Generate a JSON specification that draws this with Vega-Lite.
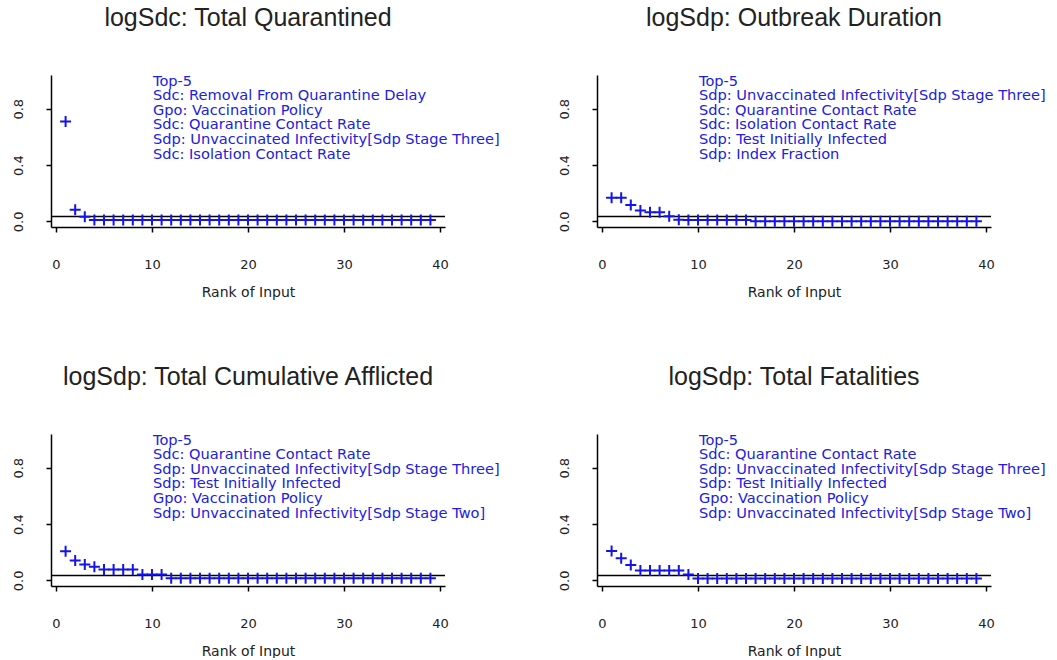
{
  "$schema": "https://vega.github.io/schema/vega-lite/v6.json",
  "background": "white",
  "padding": {"left": 12, "top": 5, "right": 0, "bottom": 0},
  "config": {
    "view": {"stroke": null},
    "font": "DejaVu Sans",
    "title": {"font": "Liberation Sans", "fontSize": 25, "fontWeight": "normal", "color": "#222", "anchor": "middle", "baseline": "alphabetic", "offset": 43},
    "axis": {"grid": false, "domainColor": "black", "domainWidth": 1.5, "tickColor": "black", "tickWidth": 1.5, "tickSize": 5, "labelFont": "DejaVu Sans", "labelFontSize": 13, "labelColor": "#222", "titleFont": "DejaVu Sans", "titleFontSize": 14, "titleFontWeight": "normal", "titleColor": "#222"},
    "axisX": {"labelPadding": 26, "titlePadding": 14, "labelFlush": false},
    "axisY": {"labelAngle": 270, "labelAlign": "center", "labelBaseline": "bottom", "labelPadding": 21, "labelFlush": false, "title": null}
  },
  "datasets": {
    "quarantined": [
      {"rank": 1, "value": 0.71}, {"rank": 2, "value": 0.083}, {"rank": 3, "value": 0.032}, {"rank": 4, "value": 0.01},
      {"rank": 5, "value": 0.01}, {"rank": 6, "value": 0.01}, {"rank": 7, "value": 0.01}, {"rank": 8, "value": 0.01},
      {"rank": 9, "value": 0.01}, {"rank": 10, "value": 0.01}, {"rank": 11, "value": 0.01}, {"rank": 12, "value": 0.01},
      {"rank": 13, "value": 0.01}, {"rank": 14, "value": 0.01}, {"rank": 15, "value": 0.01}, {"rank": 16, "value": 0.01},
      {"rank": 17, "value": 0.01}, {"rank": 18, "value": 0.01}, {"rank": 19, "value": 0.01}, {"rank": 20, "value": 0.01},
      {"rank": 21, "value": 0.01}, {"rank": 22, "value": 0.01}, {"rank": 23, "value": 0.01}, {"rank": 24, "value": 0.01},
      {"rank": 25, "value": 0.01}, {"rank": 26, "value": 0.01}, {"rank": 27, "value": 0.01}, {"rank": 28, "value": 0.01},
      {"rank": 29, "value": 0.01}, {"rank": 30, "value": 0.01}, {"rank": 31, "value": 0.01}, {"rank": 32, "value": 0.01},
      {"rank": 33, "value": 0.01}, {"rank": 34, "value": 0.01}, {"rank": 35, "value": 0.01}, {"rank": 36, "value": 0.01},
      {"rank": 37, "value": 0.01}, {"rank": 38, "value": 0.01}, {"rank": 39, "value": 0.01}
    ],
    "duration": [
      {"rank": 1, "value": 0.167}, {"rank": 2, "value": 0.167}, {"rank": 3, "value": 0.117}, {"rank": 4, "value": 0.077},
      {"rank": 5, "value": 0.065}, {"rank": 6, "value": 0.065}, {"rank": 7, "value": 0.036}, {"rank": 8, "value": 0.012},
      {"rank": 9, "value": 0.01}, {"rank": 10, "value": 0.01}, {"rank": 11, "value": 0.01}, {"rank": 12, "value": 0.01},
      {"rank": 13, "value": 0.01}, {"rank": 14, "value": 0.01}, {"rank": 15, "value": 0.01}, {"rank": 16, "value": 0.0},
      {"rank": 17, "value": 0.0}, {"rank": 18, "value": 0.0}, {"rank": 19, "value": 0.0}, {"rank": 20, "value": 0.0},
      {"rank": 21, "value": 0.0}, {"rank": 22, "value": 0.0}, {"rank": 23, "value": 0.0}, {"rank": 24, "value": 0.0},
      {"rank": 25, "value": 0.0}, {"rank": 26, "value": 0.0}, {"rank": 27, "value": 0.0}, {"rank": 28, "value": 0.0},
      {"rank": 29, "value": 0.0}, {"rank": 30, "value": 0.0}, {"rank": 31, "value": 0.0}, {"rank": 32, "value": 0.0},
      {"rank": 33, "value": 0.0}, {"rank": 34, "value": 0.0}, {"rank": 35, "value": 0.0}, {"rank": 36, "value": 0.0},
      {"rank": 37, "value": 0.0}, {"rank": 38, "value": 0.0}, {"rank": 39, "value": 0.0}
    ],
    "afflicted": [
      {"rank": 1, "value": 0.207}, {"rank": 2, "value": 0.142}, {"rank": 3, "value": 0.112}, {"rank": 4, "value": 0.097},
      {"rank": 5, "value": 0.078}, {"rank": 6, "value": 0.078}, {"rank": 7, "value": 0.078}, {"rank": 8, "value": 0.078},
      {"rank": 9, "value": 0.042}, {"rank": 10, "value": 0.042}, {"rank": 11, "value": 0.042}, {"rank": 12, "value": 0.015},
      {"rank": 13, "value": 0.015}, {"rank": 14, "value": 0.015}, {"rank": 15, "value": 0.015}, {"rank": 16, "value": 0.015},
      {"rank": 17, "value": 0.015}, {"rank": 18, "value": 0.015}, {"rank": 19, "value": 0.015}, {"rank": 20, "value": 0.015},
      {"rank": 21, "value": 0.015}, {"rank": 22, "value": 0.015}, {"rank": 23, "value": 0.015}, {"rank": 24, "value": 0.015},
      {"rank": 25, "value": 0.015}, {"rank": 26, "value": 0.015}, {"rank": 27, "value": 0.015}, {"rank": 28, "value": 0.015},
      {"rank": 29, "value": 0.015}, {"rank": 30, "value": 0.015}, {"rank": 31, "value": 0.015}, {"rank": 32, "value": 0.015},
      {"rank": 33, "value": 0.015}, {"rank": 34, "value": 0.015}, {"rank": 35, "value": 0.015}, {"rank": 36, "value": 0.015},
      {"rank": 37, "value": 0.015}, {"rank": 38, "value": 0.015}, {"rank": 39, "value": 0.015}
    ],
    "fatalities": [
      {"rank": 1, "value": 0.208}, {"rank": 2, "value": 0.158}, {"rank": 3, "value": 0.11}, {"rank": 4, "value": 0.071},
      {"rank": 5, "value": 0.071}, {"rank": 6, "value": 0.071}, {"rank": 7, "value": 0.071}, {"rank": 8, "value": 0.071},
      {"rank": 9, "value": 0.042}, {"rank": 10, "value": 0.013}, {"rank": 11, "value": 0.013}, {"rank": 12, "value": 0.013},
      {"rank": 13, "value": 0.013}, {"rank": 14, "value": 0.013}, {"rank": 15, "value": 0.013}, {"rank": 16, "value": 0.013},
      {"rank": 17, "value": 0.013}, {"rank": 18, "value": 0.013}, {"rank": 19, "value": 0.013}, {"rank": 20, "value": 0.013},
      {"rank": 21, "value": 0.013}, {"rank": 22, "value": 0.013}, {"rank": 23, "value": 0.013}, {"rank": 24, "value": 0.013},
      {"rank": 25, "value": 0.013}, {"rank": 26, "value": 0.013}, {"rank": 27, "value": 0.013}, {"rank": 28, "value": 0.013},
      {"rank": 29, "value": 0.013}, {"rank": 30, "value": 0.013}, {"rank": 31, "value": 0.013}, {"rank": 32, "value": 0.013},
      {"rank": 33, "value": 0.013}, {"rank": 34, "value": 0.013}, {"rank": 35, "value": 0.013}, {"rank": 36, "value": 0.013},
      {"rank": 37, "value": 0.013}, {"rank": 38, "value": 0.013}, {"rank": 39, "value": 0.013}
    ],
    "threshold": [{"level": 0.035}],
    "legends": [
      {"panel": "quarantined", "text": "Top-5|Sdc: Removal From Quarantine Delay|Gpo: Vaccination Policy|Sdc: Quarantine Contact Rate|Sdp: Unvaccinated Infectivity[Sdp Stage Three]|Sdc: Isolation Contact Rate"},
      {"panel": "duration", "text": "Top-5|Sdp: Unvaccinated Infectivity[Sdp Stage Three]|Sdc: Quarantine Contact Rate|Sdc: Isolation Contact Rate|Sdp: Test Initially Infected|Sdp: Index Fraction"},
      {"panel": "afflicted", "text": "Top-5|Sdc: Quarantine Contact Rate|Sdp: Unvaccinated Infectivity[Sdp Stage Three]|Sdp: Test Initially Infected|Gpo: Vaccination Policy|Sdp: Unvaccinated Infectivity[Sdp Stage Two]"},
      {"panel": "fatalities", "text": "Top-5|Sdc: Quarantine Contact Rate|Sdp: Unvaccinated Infectivity[Sdp Stage Three]|Sdp: Test Initially Infected|Gpo: Vaccination Policy|Sdp: Unvaccinated Infectivity[Sdp Stage Two]"}
    ]
  },
  "columns": 2,
  "bounds": "flush",
  "spacing": {"row": 207, "column": 152},
  "concat": [
    {
      "title": "logSdc: Total Quarantined",
      "width": 394, "height": 152,
      "layer": [
        {"data": {"name": "threshold"}, "mark": {"type": "rule", "color": "black", "strokeWidth": 1.5},
         "encoding": {"y": {"field": "level", "type": "quantitative", "scale": {"domain": [-0.04, 1.04], "nice": false, "zero": false}}}},
        {"data": {"name": "quarantined"}, "mark": {"type": "point", "shape": "M-1,0H1M0,-1V1", "filled": false, "size": 121, "strokeWidth": 2, "color": "#1414e6", "opacity": 1},
         "encoding": {"x": {"field": "rank", "type": "quantitative", "title": "Rank of Input", "scale": {"domain": [-0.52, 40.52], "nice": false, "zero": false}, "axis": {"values": [0, 10, 20, 30, 40]}},
                      "y": {"field": "value", "type": "quantitative", "scale": {"domain": [-0.04, 1.04], "nice": false, "zero": false}, "axis": {"values": [0, 0.2, 0.4, 0.6, 0.8, 1.0], "labelExpr": "abs(datum.value) < 0.001 || abs(datum.value - 0.4) < 0.001 || abs(datum.value - 0.8) < 0.001 ? format(datum.value, '.1f') : ''"}}}},
        {"data": {"name": "legends"}, "transform": [{"filter": "datum.panel === 'quarantined'"}],
         "mark": {"type": "text", "lineBreak": "|", "lineHeight": 14.6, "align": "left", "baseline": "alphabetic", "font": "DejaVu Sans", "fontSize": 14.6, "color": "#2020e0"},
         "encoding": {"x": {"datum": 10.1}, "y": {"datum": 0.965}, "text": {"field": "text"}}}
      ]
    },
    {
      "title": "logSdp: Outbreak Duration",
      "width": 394, "height": 152,
      "layer": [
        {"data": {"name": "threshold"}, "mark": {"type": "rule", "color": "black", "strokeWidth": 1.5},
         "encoding": {"y": {"field": "level", "type": "quantitative", "scale": {"domain": [-0.04, 1.04], "nice": false, "zero": false}}}},
        {"data": {"name": "duration"}, "mark": {"type": "point", "shape": "M-1,0H1M0,-1V1", "filled": false, "size": 121, "strokeWidth": 2, "color": "#1414e6", "opacity": 1},
         "encoding": {"x": {"field": "rank", "type": "quantitative", "title": "Rank of Input", "scale": {"domain": [-0.52, 40.52], "nice": false, "zero": false}, "axis": {"values": [0, 10, 20, 30, 40]}},
                      "y": {"field": "value", "type": "quantitative", "scale": {"domain": [-0.04, 1.04], "nice": false, "zero": false}, "axis": {"values": [0, 0.2, 0.4, 0.6, 0.8, 1.0], "labelExpr": "abs(datum.value) < 0.001 || abs(datum.value - 0.4) < 0.001 || abs(datum.value - 0.8) < 0.001 ? format(datum.value, '.1f') : ''"}}}},
        {"data": {"name": "legends"}, "transform": [{"filter": "datum.panel === 'duration'"}],
         "mark": {"type": "text", "lineBreak": "|", "lineHeight": 14.6, "align": "left", "baseline": "alphabetic", "font": "DejaVu Sans", "fontSize": 14.6, "color": "#2020e0"},
         "encoding": {"x": {"datum": 10.1}, "y": {"datum": 0.965}, "text": {"field": "text"}}}
      ]
    },
    {
      "title": "logSdp: Total Cumulative Afflicted",
      "width": 394, "height": 152,
      "layer": [
        {"data": {"name": "threshold"}, "mark": {"type": "rule", "color": "black", "strokeWidth": 1.5},
         "encoding": {"y": {"field": "level", "type": "quantitative", "scale": {"domain": [-0.04, 1.04], "nice": false, "zero": false}}}},
        {"data": {"name": "afflicted"}, "mark": {"type": "point", "shape": "M-1,0H1M0,-1V1", "filled": false, "size": 121, "strokeWidth": 2, "color": "#1414e6", "opacity": 1},
         "encoding": {"x": {"field": "rank", "type": "quantitative", "title": "Rank of Input", "scale": {"domain": [-0.52, 40.52], "nice": false, "zero": false}, "axis": {"values": [0, 10, 20, 30, 40]}},
                      "y": {"field": "value", "type": "quantitative", "scale": {"domain": [-0.04, 1.04], "nice": false, "zero": false}, "axis": {"values": [0, 0.2, 0.4, 0.6, 0.8, 1.0], "labelExpr": "abs(datum.value) < 0.001 || abs(datum.value - 0.4) < 0.001 || abs(datum.value - 0.8) < 0.001 ? format(datum.value, '.1f') : ''"}}}},
        {"data": {"name": "legends"}, "transform": [{"filter": "datum.panel === 'afflicted'"}],
         "mark": {"type": "text", "lineBreak": "|", "lineHeight": 14.6, "align": "left", "baseline": "alphabetic", "font": "DejaVu Sans", "fontSize": 14.6, "color": "#2020e0"},
         "encoding": {"x": {"datum": 10.1}, "y": {"datum": 0.965}, "text": {"field": "text"}}}
      ]
    },
    {
      "title": "logSdp: Total Fatalities",
      "width": 394, "height": 152,
      "layer": [
        {"data": {"name": "threshold"}, "mark": {"type": "rule", "color": "black", "strokeWidth": 1.5},
         "encoding": {"y": {"field": "level", "type": "quantitative", "scale": {"domain": [-0.04, 1.04], "nice": false, "zero": false}}}},
        {"data": {"name": "fatalities"}, "mark": {"type": "point", "shape": "M-1,0H1M0,-1V1", "filled": false, "size": 121, "strokeWidth": 2, "color": "#1414e6", "opacity": 1},
         "encoding": {"x": {"field": "rank", "type": "quantitative", "title": "Rank of Input", "scale": {"domain": [-0.52, 40.52], "nice": false, "zero": false}, "axis": {"values": [0, 10, 20, 30, 40]}},
                      "y": {"field": "value", "type": "quantitative", "scale": {"domain": [-0.04, 1.04], "nice": false, "zero": false}, "axis": {"values": [0, 0.2, 0.4, 0.6, 0.8, 1.0], "labelExpr": "abs(datum.value) < 0.001 || abs(datum.value - 0.4) < 0.001 || abs(datum.value - 0.8) < 0.001 ? format(datum.value, '.1f') : ''"}}}},
        {"data": {"name": "legends"}, "transform": [{"filter": "datum.panel === 'fatalities'"}],
         "mark": {"type": "text", "lineBreak": "|", "lineHeight": 14.6, "align": "left", "baseline": "alphabetic", "font": "DejaVu Sans", "fontSize": 14.6, "color": "#2020e0"},
         "encoding": {"x": {"datum": 10.1}, "y": {"datum": 0.965}, "text": {"field": "text"}}}
      ]
    }
  ]
}
